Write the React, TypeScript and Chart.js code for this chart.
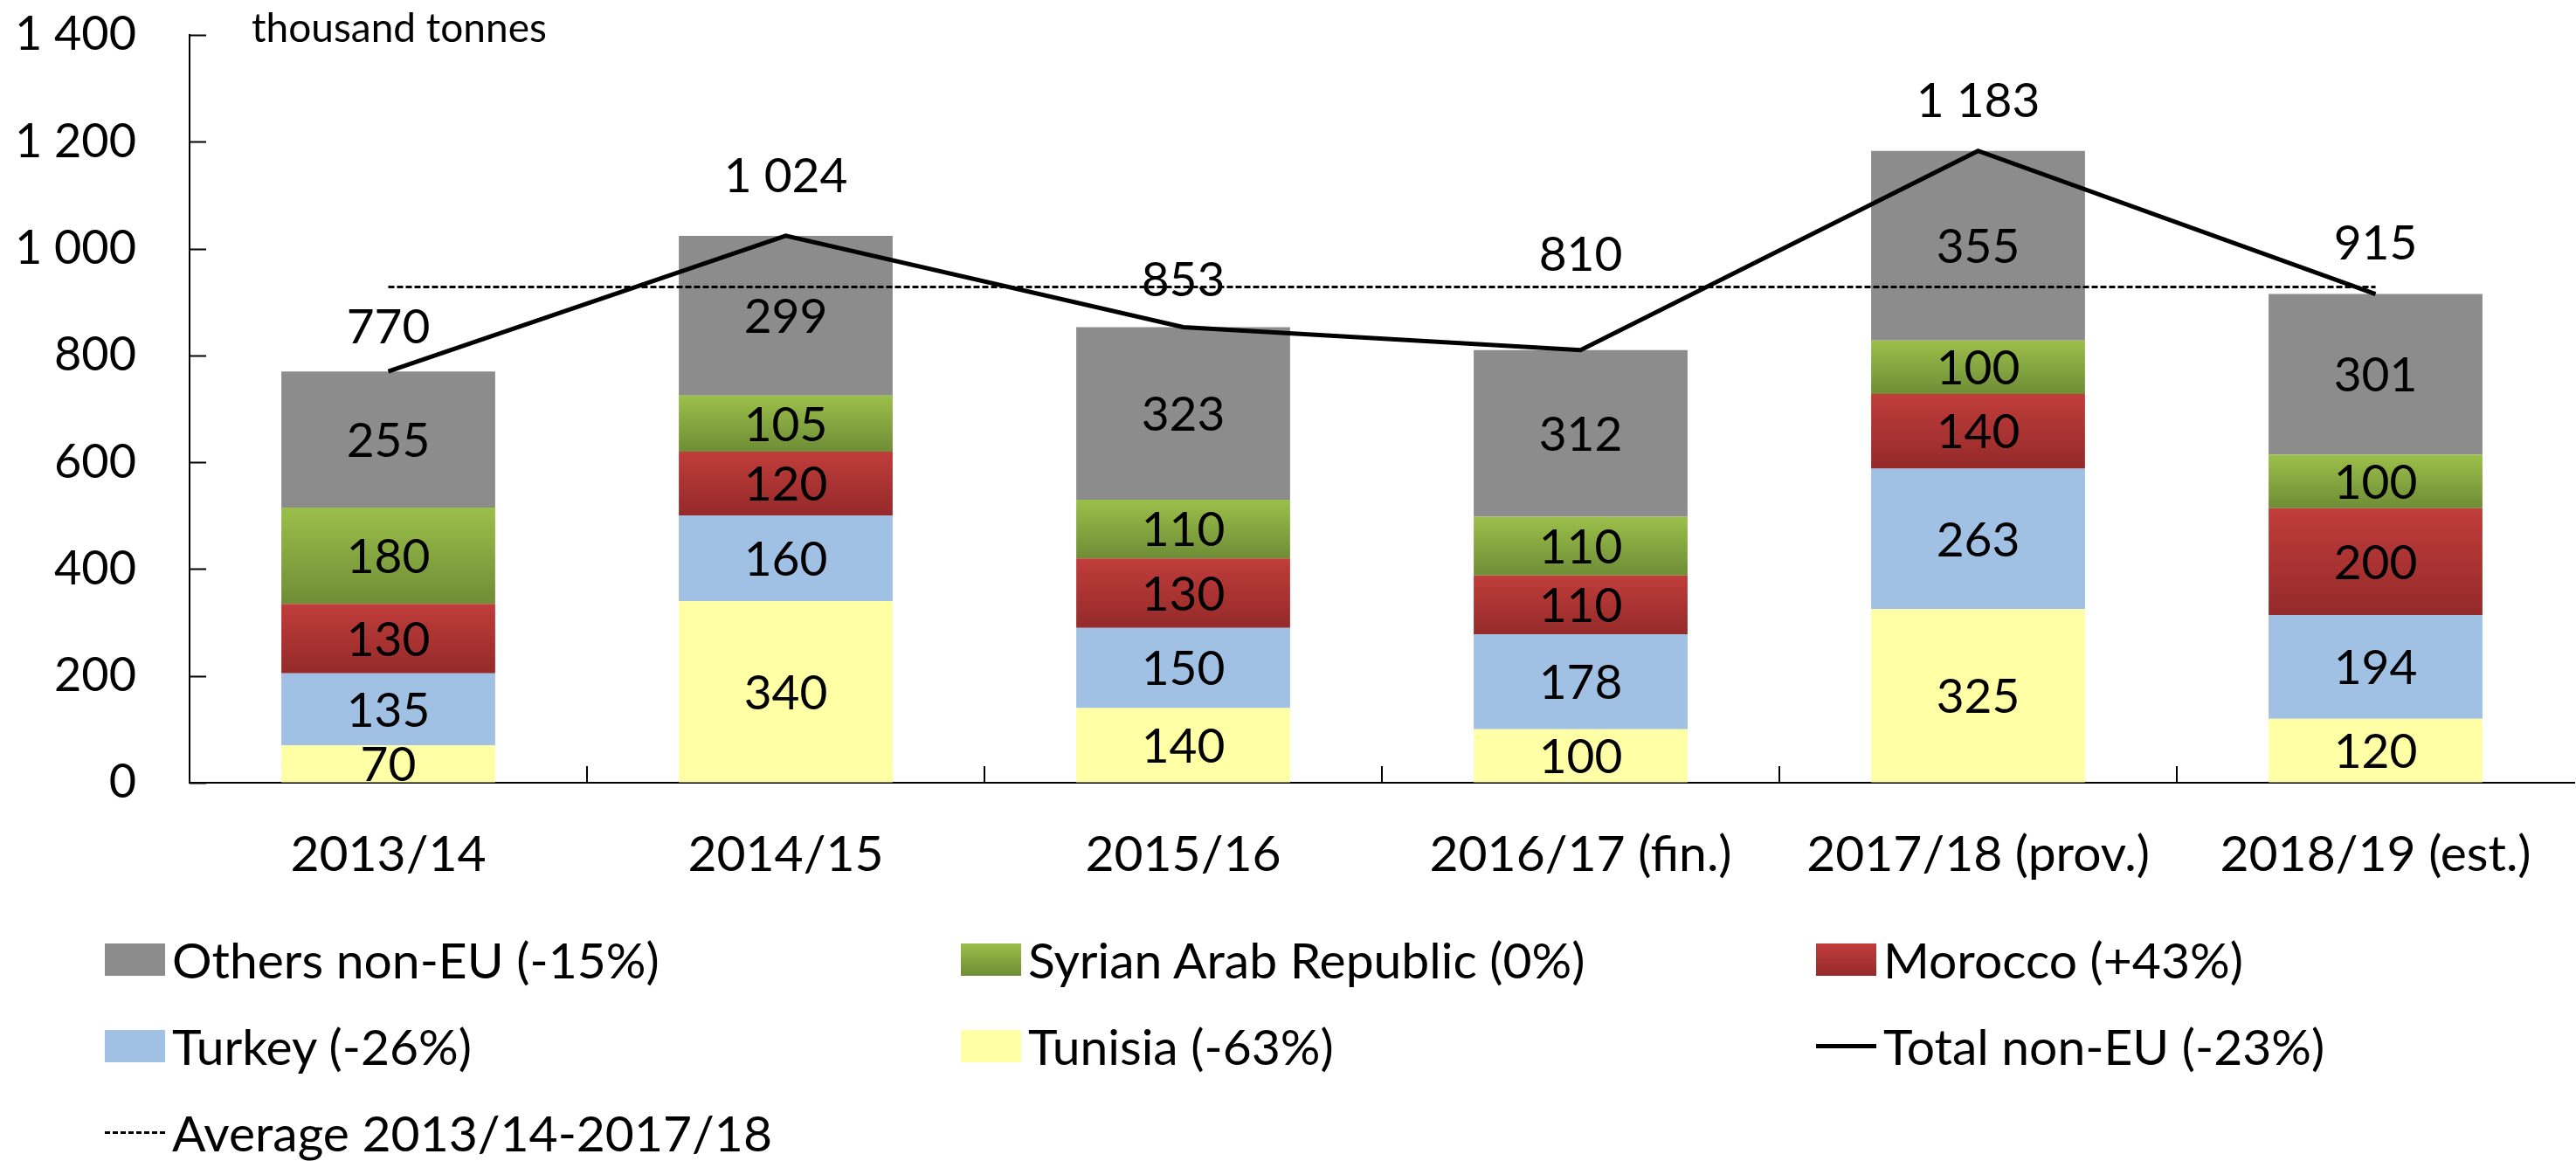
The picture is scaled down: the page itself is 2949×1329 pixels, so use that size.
import React, { useEffect, useRef } from "react";
import { Chart, registerables } from "chart.js";

Chart.register(...registerables);

const categories = ["2013/14", "2014/15", "2015/16", "2016/17 (fin.)", "2017/18 (prov.)", "2018/19 (est.)"];
const tunisia = [70, 340, 140, 100, 325, 120];
const turkey = [135, 160, 150, 178, 263, 194];
const morocco = [130, 120, 130, 110, 140, 200];
const syria = [180, 105, 110, 110, 100, 100];
const others = [255, 299, 323, 312, 355, 301];
const totalNonEU = [770, 1024, 853, 810, 1183, 915];
const average = [928, 928, 928, 928, 928, 928];
const yTickValues = [0, 200, 400, 600, 800, 1000, 1200, 1400];

// style: how far (px) each total label sits above its point
const totalLabelLift = [50, 68, 53, 108, 56, 57];

const legendLabels = {
  others: "Others non-EU (-15%)",
  syria: "Syrian Arab Republic (0%)",
  morocco: "Morocco (+43%)",
  turkey: "Turkey (-26%)",
  tunisia: "Tunisia (-63%)",
  total: "Total non-EU (-23%)",
  average: "Average 2013/14-2017/18",
};

const FONT = "Lato";
const COLORS = {
  others: "#8c8c8c",
  greenTop: "#9bbf4a",
  greenBottom: "#6e8d36",
  redTop: "#c03d3a",
  redBottom: "#942a2a",
  turkey: "#a0c0e4",
  tunisia: "#ffffa6",
};

const fmt = (v: number) => String(v).replace(/\B(?=(\d{3})+(?!\d))/g, " ");

function gradientFill(lower: number[][], values: number[], top: string, bottom: string, fallback: string) {
  return (c: any) => {
    const chart = c.chart;
    const y = chart.scales && chart.scales.y;
    if (c.type !== "data" || !y || !chart.chartArea) return fallback;
    const i = c.dataIndex;
    const base = lower.reduce((s, arr) => s + arr[i], 0);
    const y0 = y.getPixelForValue(base + values[i]);
    const y1 = y.getPixelForValue(base);
    if (!isFinite(y0) || !isFinite(y1) || y0 === y1) return fallback;
    const g = chart.ctx.createLinearGradient(0, y0, 0, y1);
    g.addColorStop(0, top);
    g.addColorStop(1, bottom);
    return g;
  };
}

const decorPlugin = {
  id: "decor",
  afterDatasetsDraw(chart: any) {
    const { ctx, chartArea, scales } = chart;
    ctx.save();
    // bar segment labels
    ctx.fillStyle = "#000";
    ctx.textAlign = "center";
    ctx.textBaseline = "middle";
    ctx.font = `55px ${FONT}`;
    chart.data.datasets.forEach((ds: any, di: number) => {
      if (ds.type === "line") return;
      const meta = chart.getDatasetMeta(di);
      meta.data.forEach((el: any, i: number) => {
        ctx.fillText(fmt(ds.data[i]), el.x, (el.y + el.base) / 2 + 2);
      });
    });
    // total labels
    const totalIdx = chart.data.datasets.findIndex((d: any) => d.id === "total");
    const tMeta = chart.getDatasetMeta(totalIdx);
    tMeta.data.forEach((pt: any, i: number) => {
      ctx.fillText(fmt(totalNonEU[i]), pt.x, pt.y - totalLabelLift[i]);
    });
    // inward ticks
    ctx.strokeStyle = "#000";
    ctx.lineWidth = 2;
    const x = scales.x;
    const y = scales.y;
    ctx.beginPath();
    yTickValues.forEach((v) => {
      const py = Math.round(y.getPixelForValue(v)) + 0.5;
      ctx.moveTo(chartArea.left, py);
      ctx.lineTo(chartArea.left + 19, py);
    });
    for (let k = 1; k < categories.length; k++) {
      const px = Math.round((x.getPixelForValue(k - 1) + x.getPixelForValue(k)) / 2);
      ctx.moveTo(px, chartArea.bottom);
      ctx.lineTo(px, chartArea.bottom - 19);
    }
    ctx.stroke();
    // unit label
    ctx.textAlign = "left";
    ctx.textBaseline = "alphabetic";
    ctx.font = `46px ${FONT}`;
    ctx.fillText("thousand tonnes", 288, 48);
    ctx.restore();
  },
};

function Swatch({ kind }: { kind: string }) {
  const base: React.CSSProperties = { width: 69, height: 37, flex: "0 0 69px" };
  let style: React.CSSProperties = base;
  if (kind === "others") style = { ...base, background: COLORS.others };
  if (kind === "syria") style = { ...base, background: `linear-gradient(${COLORS.greenTop}, ${COLORS.greenBottom})` };
  if (kind === "morocco") style = { ...base, background: `linear-gradient(${COLORS.redTop}, ${COLORS.redBottom})` };
  if (kind === "turkey") style = { ...base, background: COLORS.turkey };
  if (kind === "tunisia") style = { ...base, background: COLORS.tunisia };
  if (kind === "total")
    return (
      <div style={{ ...base, display: "flex", alignItems: "center" }}>
        <div style={{ width: 69, height: 0, borderTop: "5px solid #000" }} />
      </div>
    );
  if (kind === "average")
    return (
      <div style={{ ...base, display: "flex", alignItems: "center" }}>
        <div style={{ width: 69, height: 0, borderTop: "3px dashed #000" }} />
      </div>
    );
  return <div style={style} />;
}

export default function App() {
  const canvasRef = useRef<HTMLCanvasElement | null>(null);

  useEffect(() => {
    if (!canvasRef.current) return;
    Chart.defaults.font.family = FONT;
    Chart.defaults.color = "#000";
    const chart = new Chart(canvasRef.current, {
      type: "bar",
      data: {
        labels: categories,
        datasets: [
          { type: "line", id: "total", label: legendLabels.total, data: totalNonEU, borderColor: "#000", borderWidth: 5, pointRadius: 0, tension: 0, stack: "s_total", order: 0 } as any,
          { type: "line", id: "average", label: legendLabels.average, data: average, borderColor: "#000", borderWidth: 3, borderDash: [7, 3], pointRadius: 0, tension: 0, stack: "s_avg", order: 0 } as any,
          { label: legendLabels.tunisia, data: tunisia, backgroundColor: COLORS.tunisia, stack: "bars", order: 1 },
          { label: legendLabels.turkey, data: turkey, backgroundColor: COLORS.turkey, stack: "bars", order: 1 },
          { label: legendLabels.morocco, data: morocco, backgroundColor: gradientFill([tunisia, turkey], morocco, COLORS.redTop, COLORS.redBottom, COLORS.redTop), stack: "bars", order: 1 },
          { label: legendLabels.syria, data: syria, backgroundColor: gradientFill([tunisia, turkey, morocco], syria, COLORS.greenTop, COLORS.greenBottom, COLORS.greenTop), stack: "bars", order: 1 },
          { label: legendLabels.others, data: others, backgroundColor: COLORS.others, stack: "bars", order: 1 },
        ],
      },
      options: {
        animation: false,
        responsive: false,
        maintainAspectRatio: false,
        layout: { padding: { top: 40, left: 0, right: 2, bottom: 0 } },
        plugins: { legend: { display: false }, tooltip: { enabled: false } },
        datasets: { bar: { categoryPercentage: 1, barPercentage: 0.538 } },
        scales: {
          x: {
            stacked: true,
            grid: { display: true, drawOnChartArea: false, drawTicks: false },
            border: { display: true, color: "#000", width: 2 },
            ticks: { font: { size: 57, family: FONT }, color: "#000", padding: 48, maxRotation: 0, autoSkip: false },
            afterFit: (s: any) => { s.height = 433; },
          },
          y: {
            stacked: true,
            min: 0,
            max: 1400,
            grid: { display: true, drawOnChartArea: false, drawTicks: true, tickLength: 61, tickColor: "rgba(0,0,0,0)" },
            border: { display: true, color: "#000", width: 2 },
            ticks: { stepSize: 200, font: { size: 54, family: FONT }, color: "#000", padding: 0, callback: (v: any) => fmt(Number(v)) },
            afterFit: (s: any) => { s.width = 217; },
          },
        },
      },
      plugins: [decorPlugin],
    });
    return () => chart.destroy();
  }, []);

  const cols = [120, 1100, 2079];
  const rows = [1098, 1197, 1296];
  const legendItems: { kind: string; text: string; c: number; r: number }[] = [
    { kind: "others", text: legendLabels.others, c: 0, r: 0 },
    { kind: "syria", text: legendLabels.syria, c: 1, r: 0 },
    { kind: "morocco", text: legendLabels.morocco, c: 2, r: 0 },
    { kind: "turkey", text: legendLabels.turkey, c: 0, r: 1 },
    { kind: "tunisia", text: legendLabels.tunisia, c: 1, r: 1 },
    { kind: "total", text: legendLabels.total, c: 2, r: 1 },
    { kind: "average", text: legendLabels.average, c: 0, r: 2 },
  ];

  return (
    <div style={{ position: "fixed", left: 0, top: 0, width: 2949, height: 1329, background: "#fff", overflow: "hidden" }}>
      <canvas ref={canvasRef} width={2949} height={1329} style={{ width: 2949, height: 1329, display: "block" }} />
      {legendItems.map((it) => (
        <div
          key={it.kind}
          style={{
            position: "absolute",
            left: cols[it.c],
            top: rows[it.r] - 40,
            height: 80,
            display: "flex",
            alignItems: "center",
            gap: 8,
            fontFamily: FONT,
            fontSize: 57,
            color: "#000",
            whiteSpace: "nowrap",
          }}
        >
          <Swatch kind={it.kind} />
          <span style={{ lineHeight: "80px" }}>{it.text}</span>
        </div>
      ))}
    </div>
  );
}
